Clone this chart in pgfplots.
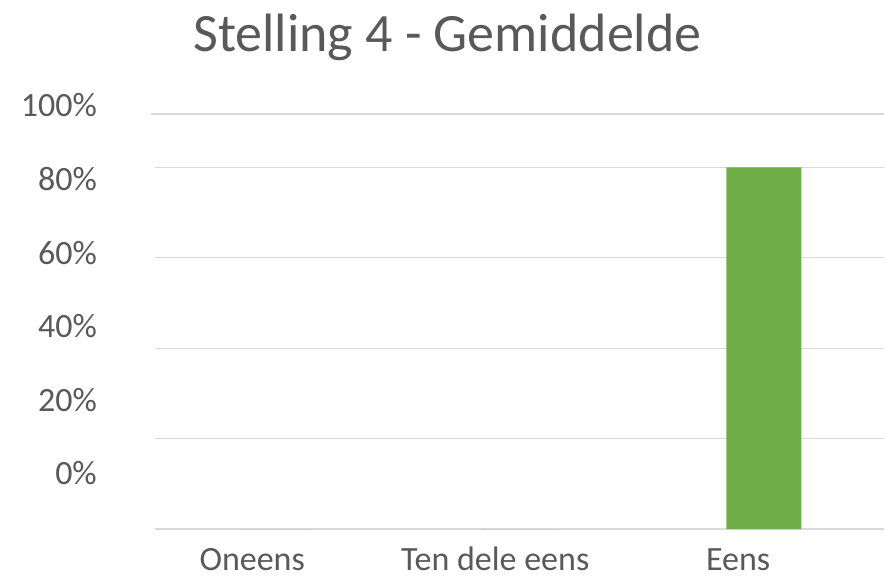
\documentclass[border=0pt]{standalone}
\usepackage{fontspec}
\setmainfont{Carlito}
\usepackage{pgfplots}
\pgfplotsset{compat=1.18}
\definecolor{txt}{HTML}{595959}
\definecolor{grid}{HTML}{D9D9D9}
\definecolor{bar}{HTML}{70AD47}
\begin{document}
\begin{tikzpicture}
\useasboundingbox (-155pt,-46pt) rectangle (730pt,529pt);
\begin{axis}[
  at={(0,0)}, anchor=south west,
  scale only axis, width=729pt, height=452pt,
  xmin=0, xmax=3, ymin=0, ymax=5,
  axis line style={draw=none},
  major tick length=0pt,
  clip=false,
  ybar, bar width=75pt,
  xtick={0.4,1.4,2.4},
  xticklabels={Oneens,Ten dele eens,Eens},
  xticklabel style={anchor=base, inner sep=0pt, yshift=-41.5pt, font=\fontsize{34pt}{40pt}\selectfont, text=txt},
  ytick={0.487,1.30,2.12,2.93,3.74,4.56},
  yticklabels={0\%,20\%,40\%,60\%,80\%,100\%},
  yticklabel style={anchor=base east, inner sep=0pt, xshift=-58pt, font=\fontsize{34pt}{40pt}\selectfont, text=txt},
  extra y ticks={0,1,2,3,4},
  extra y tick labels={},
  extra y tick style={grid=major, major grid style={draw=grid, line width=1.2pt}},
]
\addplot[fill=bar, draw=none] coordinates {(0.5,0) (1.5,0) (2.506,4)};
\draw[draw=grid, line width=2.5pt] (axis cs:-0.0165,4.59) -- (axis cs:3,4.59);
\end{axis}
\node[anchor=base, inner sep=0pt, text=txt, font=\fontsize{54pt}{60pt}\selectfont] at (292.5pt,477pt) {Stelling 4 - Gemiddelde};
\end{tikzpicture}
\end{document}
